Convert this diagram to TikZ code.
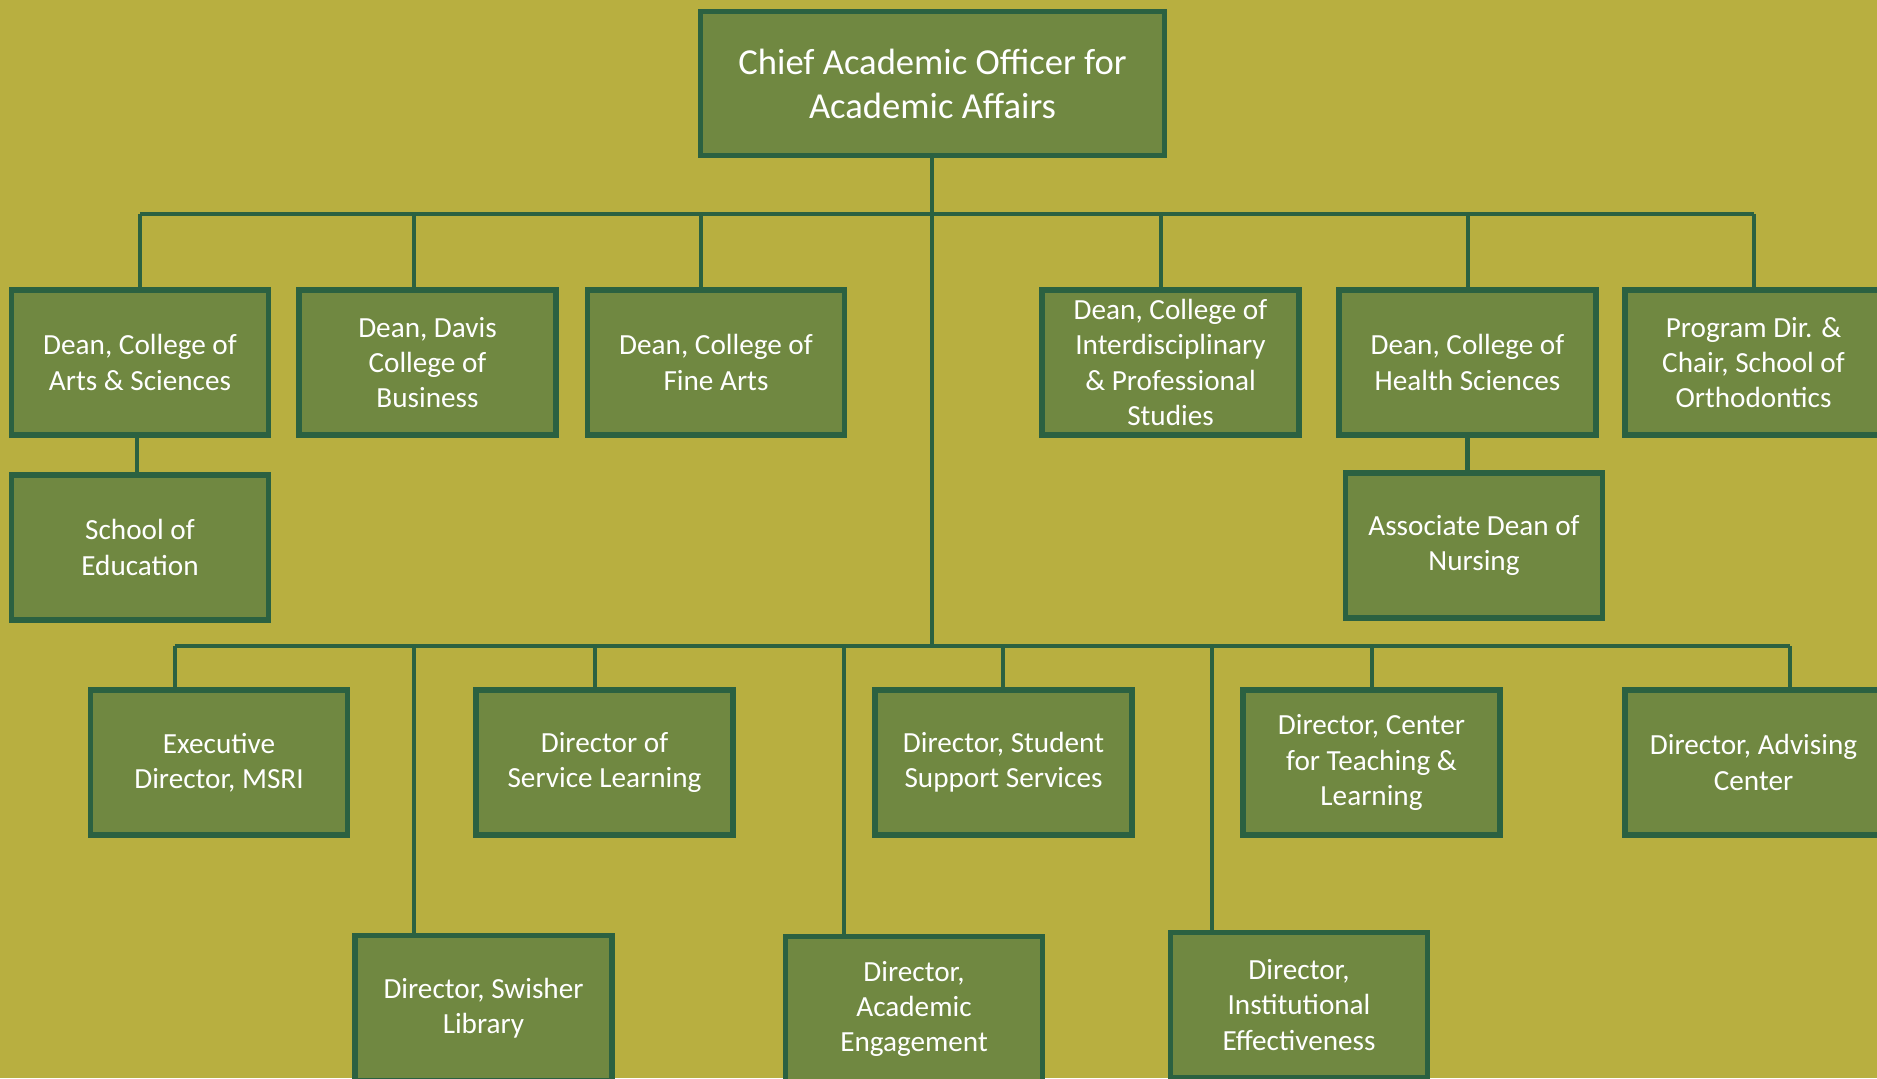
\documentclass[tikz,border=0pt]{standalone}
\usepackage{fontspec}
\setmainfont{Carlito}
\definecolor{bgol}{RGB}{184,175,64}
\definecolor{boxfill}{RGB}{112,136,65}
\definecolor{bord}{RGB}{43,97,65}
\tikzset{
  orgbox/.style={draw=bord, line width=2.6pt, fill=boxfill, text=white, align=center,
    font=\fontsize{14.6}{17.6}\selectfont, minimum width=128.5pt, minimum height=72.5pt,
    inner sep=0pt},
  topbox/.style={orgbox, minimum width=232pt, minimum height=72pt,
    font=\fontsize{18.3}{22}\selectfont},
  conn/.style={draw=bord, line width=2.3pt}
}
\begin{document}
\begin{tikzpicture}[x=0.5pt,y=-0.5pt]
\useasboundingbox (0,0) rectangle (1877,1078);
\clip (0,0) rectangle (1877,1078);
\fill[bgol] (0,0) rectangle (1877,1078);

% coordinates of buses
\coordinate (tb1) at (140,214);
\coordinate (tb2) at (414,214);
\coordinate (tb3) at (701,214);
\coordinate (tbc) at (932,214);
\coordinate (tb4) at (1161,214);
\coordinate (tb5) at (1468,214);
\coordinate (tb6) at (1754,214);
\coordinate (lb1) at (175,646);
\coordinate (lb2) at (414,646);
\coordinate (lb3) at (595,646);
\coordinate (lb4) at (844,646);
\coordinate (lbc) at (932,646);
\coordinate (lb5) at (1003,646);
\coordinate (lb6) at (1212,646);
\coordinate (lb7) at (1372,646);
\coordinate (lb8) at (1790,646);

% boxes
\node[topbox] (top) at (932.5,83.5) {Chief Academic Officer for\\Academic Affairs};
\node[orgbox] (as) at (140,362.5) {Dean, College of\\Arts \& Sciences};
\node[orgbox] (davis) at (427.5,362.5) {Dean, Davis\\College of\\Business};
\node[orgbox] (fine) at (716,362.5) {Dean, College of\\Fine Arts};
\node[orgbox] (inter) at (1170.5,362.5) {Dean, College of\\Interdisciplinary\\\& Professional\\Studies};
\node[orgbox] (health) at (1467.5,362.5) {Dean, College of\\Health Sciences};
\node[orgbox] (ortho) at (1753.5,362.5) {Program Dir. \&\\Chair, School of\\Orthodontics};
\node[orgbox] (school) at (140,547.5) {School of\\Education};
\node[orgbox] (nursing) at (1474,545.5) {Associate Dean of\\Nursing};
\node[orgbox] (msri) at (219,762.5) {Executive\\Director, MSRI};
\node[orgbox] (service) at (604.5,762.5) {Director of\\Service Learning};
\node[orgbox] (student) at (1003.5,762.5) {Director, Student\\Support Services};
\node[orgbox] (center) at (1371.5,762.5) {Director, Center\\for Teaching \&\\Learning};
\node[orgbox] (advising) at (1753.5,762.5) {Director, Advising\\Center};
\node[orgbox] (library) at (483.5,1008) {Director, Swisher\\Library};
\node[orgbox] (acad) at (914,1009) {Director,\\Academic\\Engagement};
\node[orgbox] (inst) at (1299,1005) {Director,\\Institutional\\Effectiveness};

% connectors (behind boxes)
\begin{scope}[on background layer/.style={}]
\end{scope}
\draw[conn] (top.south -| lbc) -- (lbc);
\draw[conn] (tb1) -- (tb6);
\draw[conn] (lb1) -- (lb8);
\draw[conn] (tb1) -- (tb1 |- as.north);
\draw[conn] (tb2) -- (tb2 |- davis.north);
\draw[conn] (tb3) -- (tb3 |- fine.north);
\draw[conn] (tb4) -- (tb4 |- inter.north);
\draw[conn] (tb5) -- (tb5 |- health.north);
\draw[conn] (tb6) -- (tb6 |- ortho.north);
\draw[conn] (lb1) -- (lb1 |- msri.north);
\draw[conn] (lb2) -- (lb2 |- library.north);
\draw[conn] (lb3) -- (lb3 |- service.north);
\draw[conn] (lb4) -- (lb4 |- acad.north);
\draw[conn] (lb5) -- (lb5 |- student.north);
\draw[conn] (lb6) -- (lb6 |- inst.north);
\draw[conn] (lb7) -- (lb7 |- center.north);
\draw[conn] (lb8) -- (lb8 |- advising.north);
\draw[conn] ([xshift=-1.5pt]as.south) -- ([xshift=-1.5pt]school.north);
\draw[conn] (health.south) -- (health.south |- nursing.north);
\end{tikzpicture}
\end{document}
